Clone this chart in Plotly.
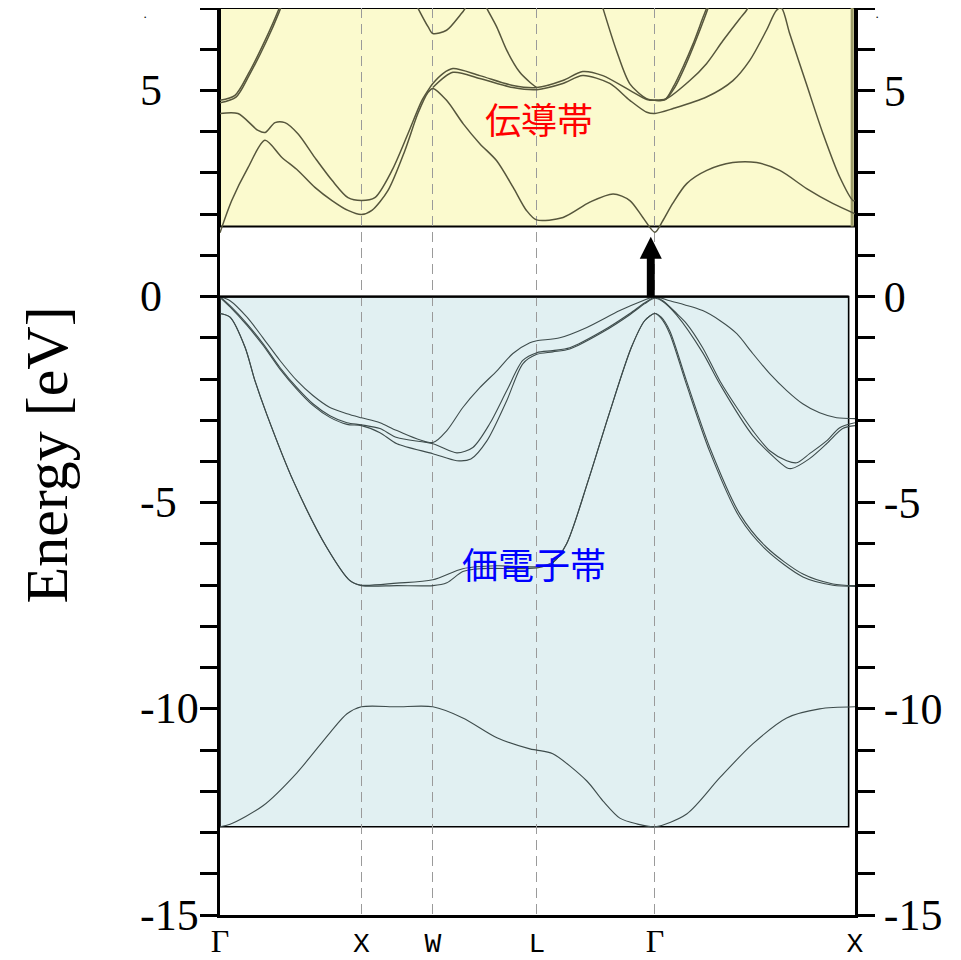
import plotly.graph_objects as go

# ---------------- data ----------------
K_TICKS = [0, 1.0, 1.505, 2.24, 3.075, 4.49]
K_LABELS = ["Γ", "X", "W", "L", "Γ", "X"]
E_TICKS = [-15, -10, -5, 0, 5]
E_LABELS = ["-15", "-10", "-5", "0", "5"]
E_RANGE = [-15, 7]

CB_BOTTOM = 1.7       # bottom of conduction-band box
VB_BOTTOM = -12.86    # bottom of valence-band box
VB_RIGHT = 4.445      # right edge of valence-band box
ARROW_K = 3.046
ARROW_TOP = 1.45
ARROW_NECK = 0.92

# valence bands
S_K = [0, 0.071, 0.304, 0.544, 0.777, 0.898, 1.0, 1.25, 1.505, 1.717, 1.958, 2.191, 2.24, 2.353,
       2.594, 2.707, 2.827, 2.947, 3.075, 3.3, 3.534, 3.767, 4.007, 4.24, 4.49]
S_E = [-12.86, -12.8, -12.35, -11.55, -10.58, -10.12, -9.95, -9.95, -9.95, -10.22, -10.7, -10.97,
       -11.0, -11.09, -11.75, -12.23, -12.65, -12.79, -12.86, -12.55, -11.67, -10.85, -10.22, -10.0, -9.95]

SO1_K = [0, 0.071, 0.177, 0.247, 0.33, 0.518, 0.754, 0.919, 1.0, 1.25, 1.505, 1.604, 1.717, 1.837,
         2.24, 2.353, 2.45, 2.603, 2.751, 2.909, 3.004, 3.075, 3.12, 3.18, 3.298, 3.463, 3.675,
         3.864, 4.122, 4.334, 4.49]
SO1_E = [-0.41, -0.5, -1.23, -2.04, -2.85, -4.47, -6.08, -6.89, -7.01, -7.01, -7.01, -6.94, -6.67,
         -6.6, -6.58, -6.45, -6.0, -4.47, -2.85, -1.23, -0.58, -0.41, -0.5, -0.83, -2.04, -3.66,
         -5.27, -6.08, -6.73, -6.97, -7.01]
SO2_K = [0, 0.071, 0.177, 0.247, 0.33, 0.518, 0.754, 0.919, 1.0, 1.25, 1.505, 1.717, 1.958,
         2.24, 2.353, 2.45, 2.603, 2.751, 2.909, 3.004, 3.075, 3.12, 3.18, 3.298, 3.463, 3.675,
         3.864, 4.122, 4.334, 4.49]
SO2_E = [-0.41, -0.5, -1.23, -2.04, -2.85, -4.47, -6.08, -6.89, -7.0, -6.95, -6.87, -6.6, -6.53,
         -6.55, -6.45, -6.0, -4.47, -2.85, -1.23, -0.58, -0.41, -0.53, -0.9, -2.13, -3.76, -5.36,
         -6.15, -6.8, -7.0, -7.03]

P1_K = [0, 0.071, 0.191, 0.304, 0.424, 0.544, 0.657, 0.777, 0.898, 1.0, 1.131, 1.251, 1.505,
        1.604, 1.717, 1.837, 1.958, 2.071, 2.191, 2.24, 2.403, 2.594, 2.827, 2.989, 3.075,
        3.18, 3.413, 3.534, 3.654, 3.767, 3.887, 4.007, 4.12, 4.24, 4.36, 4.49]
P1_E = [0, -0.1, -0.5, -1.0, -1.55, -2.04, -2.4, -2.69, -2.84, -2.94, -3.06, -3.25, -3.54,
        -3.25, -2.69, -2.21, -1.8, -1.38, -1.12, -1.07, -1.0, -0.75, -0.34, -0.1, 0,
        -0.1, -0.34, -0.58, -0.9, -1.38, -1.87, -2.28, -2.6, -2.82, -2.94, -2.96]

P2_K = [0, 0.071, 0.191, 0.304, 0.424, 0.544, 0.657, 0.777, 0.898, 1.0, 1.131, 1.251, 1.505,
        1.675, 1.788, 1.908, 2.028, 2.141, 2.24, 2.353, 2.473, 2.707, 2.898, 3.004, 3.075,
        3.131, 3.229, 3.3, 3.413, 3.534, 3.654, 3.767, 3.887, 4.007, 4.078, 4.169, 4.289, 4.382, 4.49]
P2_E = [0, -0.22, -0.66, -1.14, -1.72, -2.21, -2.6, -2.89, -3.06, -3.11, -3.2, -3.42, -3.57,
        -3.79, -3.66, -3.08, -2.28, -1.55, -1.36, -1.31, -1.24, -0.83, -0.41, -0.15, -0.02,
        -0.1, -0.41, -0.66, -1.24, -2.04, -2.69, -3.25, -3.74, -3.98, -4.03, -3.81, -3.5, -3.18, -3.06]

P3_K = [0, 0.071, 0.191, 0.304, 0.424, 0.544, 0.657, 0.777, 0.898, 1.0, 1.131, 1.251, 1.505,
        1.675, 1.774, 1.887, 2.028, 2.141, 2.24, 2.353, 2.473, 2.707, 2.898, 3.004, 3.075,
        3.131, 3.229, 3.413, 3.534, 3.767, 4.007, 4.042, 4.169, 4.289, 4.403, 4.49]
P3_E = [-0.02, -0.25, -0.7, -1.18, -1.76, -2.25, -2.64, -2.93, -3.1, -3.13, -3.3, -3.57, -3.81,
        -3.98, -3.94, -3.5, -2.52, -1.63, -1.4, -1.34, -1.27, -0.86, -0.44, -0.17, -0.04,
        -0.12, -0.45, -1.36, -2.12, -3.37, -4.15, -4.17, -3.93, -3.57, -3.2, -3.13]

# conduction bands (None = band leaves the window)
CB1_K = [0, 0.083, 0.2, 0.318, 0.436, 0.551, 0.671, 0.792, 0.905, 1.0, 1.074, 1.187, 1.307, 1.399,
         1.47, 1.505, 1.602, 1.72, 1.837, 1.955, 2.073, 2.167, 2.238, 2.426, 2.615, 2.78, 2.898,
         2.99, 3.075, 3.131, 3.201, 3.3, 3.442, 3.625, 3.795, 3.958, 4.148, 4.332, 4.49]
CB1_E = [1.55, 2.33, 3.14, 3.79, 3.38, 3.06, 2.65, 2.33, 2.09, 1.99, 2.09, 2.57, 3.54, 4.44,
         4.95, 5.05, 4.76, 4.19, 3.71, 3.3, 2.65, 2.09, 1.86, 1.92, 2.29, 2.49, 2.33,
         1.92, 1.56, 1.84, 2.26, 2.74, 3.06, 3.25, 3.25, 3.06, 2.62, 2.26, 2.01]

CB2_K = [0, 0.127, 0.269, 0.318, 0.389, 0.459, 0.551, 0.671, 0.792, 0.905, 1.0, 1.095, 1.216,
         1.329, 1.428, 1.484, 1.505, 1.576, 1.647, 1.837, 2.071, 2.24, 2.424, 2.565, 2.707, 2.898,
         3.018, 3.075, 3.157, 3.322, 3.44, 3.557, 3.675, 3.722, 3.76]
CB2_E = [4.44, 4.44, 4.03, 3.98, 4.22, 4.22, 3.95, 3.37, 2.82, 2.4, 2.33, 2.4, 3.06,
         3.95, 4.76, 5.07, 5.17, 5.41, 5.53, 5.36, 5.12, 5.07, 5.24, 5.46, 5.36, 5.0,
         4.78, 4.76, 4.8, 5.24, 5.65, 6.21, 6.74, 6.94, 7.2]

CB3_K = [0, 0.106, 0.2, 0.318, 0.412, 0.44, None,
         1.37, 1.402, 1.472, 1.505, 1.602, 1.696, 1.731, 1.75, None,
         1.86, 1.887, 1.958, 2.028, 2.12, 2.191, 2.24]
CB3_E = [4.76, 4.88, 5.4, 6.21, 6.94, 7.2, None,
         7.2, 6.98, 6.54, 6.38, 6.46, 6.82, 6.98, 7.2, None,
         7.2, 6.99, 6.53, 5.97, 5.44, 5.2, 5.07]

CB4_K = [1.505, 1.647, 1.837, 2.071, 2.24, 2.424, 2.565, 2.756, 2.898, 3.018, 3.075, 3.204,
         3.44, 3.627, 3.746, 3.864, 3.934, 3.97, 4.028, 4.146, 4.264, 4.382, 4.476, 4.49]
CB4_E = [5.07, 5.44, 5.29, 5.07, 5.02, 5.17, 5.36, 5.17, 4.76, 4.47, 4.44, 4.56,
         4.84, 5.24, 5.73, 6.46, 6.94, 7.0, 6.38, 5.16, 3.95, 2.9, 2.33, 2.33]

CB5_K = [2.69, 2.709, 2.803, 2.898, 3.016, 3.075, 3.145, 3.204, 3.274, 3.345, 3.416, 3.44, 3.46]
CB5_E = [7.2, 6.98, 5.97, 5.16, 4.8, 4.76, 4.77, 5.08, 5.57, 6.13, 6.78, 6.99, 7.2]

CB6_K = [0, 0.113, 0.205, 0.325, 0.418, 0.45, None,
         3.075, 3.15, 3.215, 3.285, 3.356, 3.427, 3.45, 3.47]
CB6_E = [4.7, 4.84, 5.36, 6.17, 6.9, 7.2, None,
         4.76, 4.79, 5.07, 5.56, 6.14, 6.77, 6.99, 7.2]

# ---------------- styles ----------------
YELLOW = "rgb(251,250,206)"
CYAN = "rgb(225,240,242)"
CB_LINE = "#56563c"
VB_LINE = "#3e4c4c"
SERIF = "Liberation Serif"

fig = go.Figure()

valence = [(S_K, S_E), (SO1_K, SO1_E), (SO2_K, SO2_E), (P1_K, P1_E), (P2_K, P2_E), (P3_K, P3_E)]
conduction = [(CB1_K, CB1_E), (CB2_K, CB2_E), (CB3_K, CB3_E), (CB4_K, CB4_E), (CB5_K, CB5_E),
              (CB6_K, CB6_E)]

for ks, es in valence:
    fig.add_trace(go.Scatter(x=ks, y=es, mode="lines", connectgaps=False, hoverinfo="skip",
                             showlegend=False,
                             line=dict(color=VB_LINE, width=1.1, shape="spline", smoothing=0.8)))
for ks, es in conduction:
    fig.add_trace(go.Scatter(x=ks, y=es, mode="lines", connectgaps=False, hoverinfo="skip",
                             showlegend=False,
                             line=dict(color=CB_LINE, width=1.5, shape="spline", smoothing=0.8)))

# invisible trace to carry the right-hand axis
fig.add_trace(go.Scatter(x=[K_TICKS[0]], y=[0], yaxis="y2", mode="markers",
                         marker=dict(opacity=0), hoverinfo="skip", showlegend=False))

# band boxes
fig.add_shape(type="rect", xref="x", yref="y", x0=K_TICKS[0], x1=K_TICKS[-1], y0=CB_BOTTOM,
              y1=E_RANGE[1], fillcolor=YELLOW, line=dict(color="black", width=2), layer="below")
fig.add_shape(type="rect", xref="x", yref="y", x0=K_TICKS[0], x1=VB_RIGHT, y0=VB_BOTTOM, y1=0,
              fillcolor=CYAN, line=dict(color="black", width=1.6), layer="below")
fig.add_shape(type="line", xref="x", yref="y", x0=K_TICKS[-1] - 0.02, x1=K_TICKS[-1] - 0.02,
              y0=CB_BOTTOM, y1=E_RANGE[1], line=dict(color="#9c9c68", width=3), layer="below")
fig.add_shape(type="line", xref="x", yref="y", x0=K_TICKS[0], x1=VB_RIGHT, y0=0, y1=0,
              line=dict(color="black", width=2.2), layer="above")

# arrow across the gap
fig.add_shape(type="rect", xref="x", yref="y", x0=ARROW_K - 0.028, x1=ARROW_K + 0.028,
              y0=0, y1=ARROW_NECK + 0.05, fillcolor="black", line=dict(width=0), layer="above")
fig.add_shape(type="path", xref="x", yref="y",
              path=f"M {ARROW_K - 0.078},{ARROW_NECK} L {ARROW_K + 0.078},{ARROW_NECK} "
                   f"L {ARROW_K},{ARROW_TOP} Z",
              fillcolor="black", line=dict(width=0), layer="above")

# region labels
fig.add_annotation(x=2.254, y=4.32, xref="x", yref="y", text="伝導帯", showarrow=False,
                   font=dict(family="Noto Sans CJK JP", size=36, color="#ff0000"))
fig.add_annotation(x=2.219, y=-6.46, xref="x", yref="y", text="価電子帯", showarrow=False,
                   font=dict(family="Noto Sans CJK JP", size=36, color="#0000ff"))

# left tick labels (left aligned as in the reference)
for v, t in zip(E_TICKS, E_LABELS):
    fig.add_annotation(x=-0.129, y=v, xref="paper", yref="y", text=t, showarrow=False,
                       xanchor="left", yanchor="middle", font=dict(family=SERIF, size=44, color="black"))
# small dots at the top corners of the reference
for xp in (-0.118, 1.035):
    fig.add_annotation(x=xp, y=1, xref="paper", yref="paper", text="·", showarrow=False,
                       xanchor="center", yanchor="top", borderpad=0,
                       font=dict(family=SERIF, size=13, color="black"))

# axis title
fig.add_annotation(x=-0.272, y=0.507, xref="paper", yref="paper", text="Energy [eV]",
                   showarrow=False, textangle=-90, xanchor="center", yanchor="middle",
                   font=dict(family=SERIF, size=60, color="black"))

tick_text = [
    (f"<span style=\"font-family:'{SERIF}';font-size:32px\">{t}</span>" if t == "Γ" else t)
    for t in K_LABELS
]

minor = dict(ticks="outside", ticklen=17, tickwidth=3, tickcolor="black", dtick=1, tick0=0,
             showgrid=False)

# the page adds an 8px body margin, so the figure is 8px smaller than the window
fig.update_layout(
    width=953, height=952,
    margin=dict(l=212, r=106, t=0, b=45, autoexpand=False),
    paper_bgcolor="white", plot_bgcolor="white",
    showlegend=False,
    xaxis=dict(range=[K_TICKS[0], K_TICKS[-1]], tickvals=K_TICKS, ticktext=tick_text,
               ticks="", showline=True, linecolor="black", linewidth=3, mirror=True,
               showgrid=True, gridcolor="#9a9a9a", gridwidth=1, griddash="10px,6px",
               zeroline=False, ticklabelstandoff=0, automargin=False,
               tickfont=dict(family="Liberation Mono", size=28, color="black")),
    yaxis=dict(range=E_RANGE, tickvals=E_TICKS, showticklabels=False, ticks="outside",
               ticklen=17, tickwidth=3, tickcolor="black", showline=True, linecolor="black",
               linewidth=3, showgrid=False, zeroline=False, minor=minor, automargin=False),
    yaxis2=dict(range=E_RANGE, overlaying="y", side="right", tickvals=E_TICKS, ticktext=E_LABELS,
                ticks="outside", ticklen=17, tickwidth=3, tickcolor="black", showline=True,
                linecolor="black", linewidth=3, showgrid=False, zeroline=False, minor=minor,
                automargin=False, tickfont=dict(family=SERIF, size=44, color="black")),
)

fig.write_html("out.html")
